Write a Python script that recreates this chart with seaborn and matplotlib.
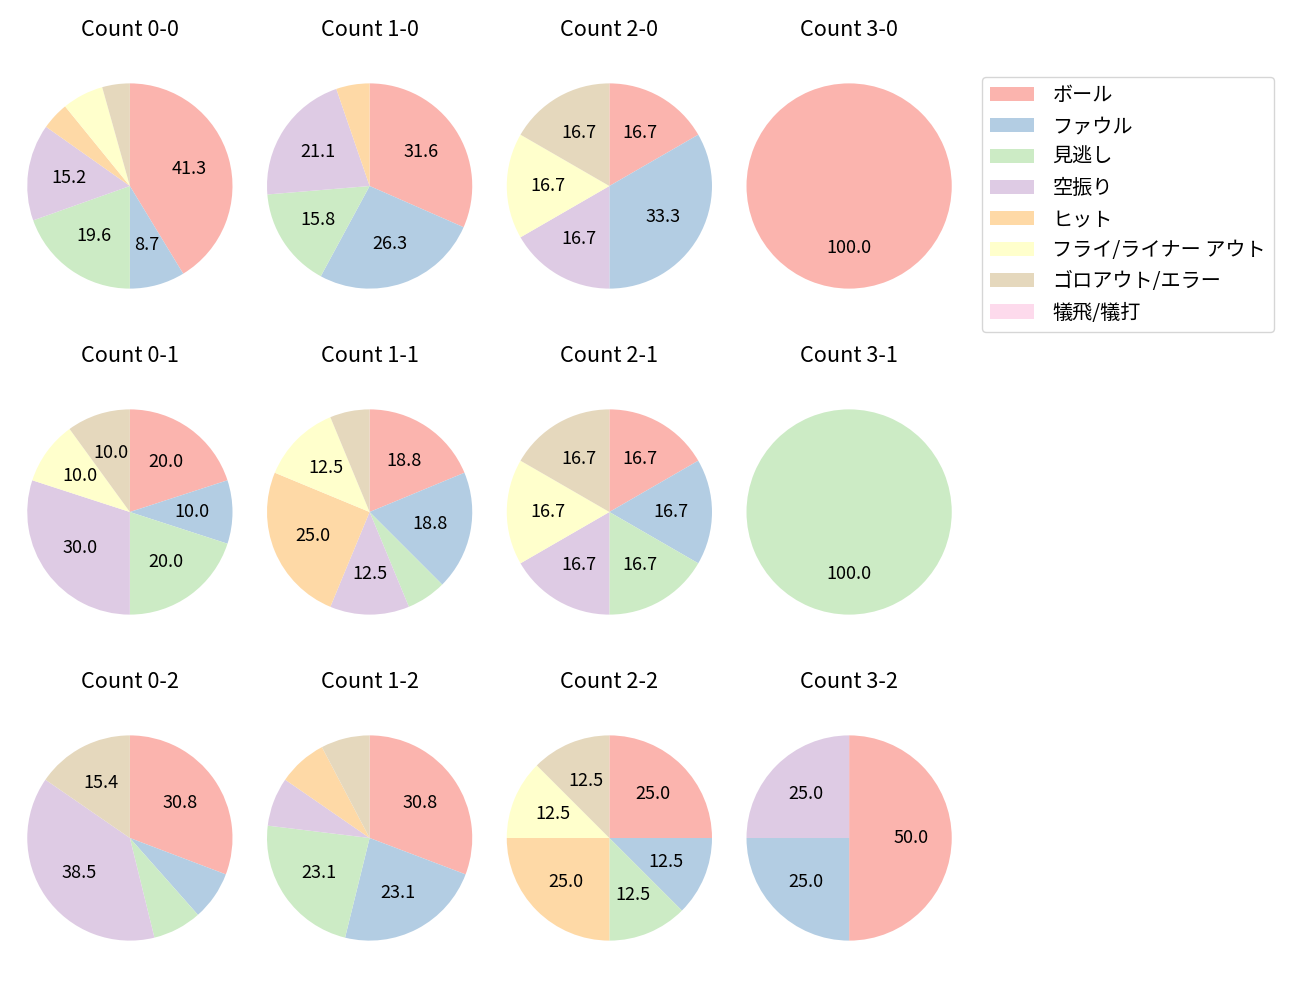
import numpy as np
import matplotlib
matplotlib.use('Agg')
import matplotlib.pyplot as plt
import seaborn as sns
from matplotlib.patches import Patch

#-----------------------------------------------
labels=['ボール', 'ファウル', '見逃し', '空振り', 'ヒット', 'フライ/ライナー アウト', 'ゴロアウト/エラー', '犠飛/犠打']

# counts per pitch result, order as in labels
c00=[19, 4, 9, 7, 2, 3, 2, 0]
c10=[6, 5, 3, 4, 1, 0, 0, 0]
c20=[1, 2, 0, 1, 0, 1, 1, 0]
c30=[1, 0, 0, 0, 0, 0, 0, 0]
c01=[2, 1, 2, 3, 0, 1, 1, 0]
c11=[3, 3, 1, 2, 4, 2, 1, 0]
c21=[1, 1, 1, 1, 0, 1, 1, 0]
c31=[0, 0, 1, 0, 0, 0, 0, 0]
c02=[4, 1, 1, 5, 0, 0, 2, 0]
c12=[4, 3, 3, 1, 1, 0, 1, 0]
c22=[2, 1, 1, 0, 2, 1, 1, 0]
c32=[2, 1, 0, 1, 0, 0, 0, 0]

grid=[[('0-0', c00), ('1-0', c10), ('2-0', c20), ('3-0', c30)],
      [('0-1', c01), ('1-1', c11), ('2-1', c21), ('3-1', c31)],
      [('0-2', c02), ('1-2', c12), ('2-2', c22), ('3-2', c32)]]

#######################################################
sns.set_style('white')
plt.rcParams['font.family']=['Noto Sans CJK JP', 'DejaVu Sans']
plt.rcParams['font.size']=13
plt.rcParams['text.color']='black'
plt.rcParams['axes.titlecolor']='black'
cmap=sns.color_palette('Pastel1', 8)


def fmt(p):
    return f'{p:.1f}' if p>=8 else ''


fig, axes=plt.subplots(3, 4, figsize=(13, 10),
                       gridspec_kw=dict(left=10/1300, right=969/1300, top=1-23/1000, bottom=1-1001/1000, wspace=0, hspace=0))
for r, row in enumerate(grid):
    for c, (name, vals) in enumerate(row):
        ax=axes[r][c]
        ax.pie(vals, colors=cmap, startangle=90, counterclock=False, autopct=fmt, radius=1.07,
               wedgeprops=dict(linewidth=0))
        ax.set_aspect('equal')
        ax.set_title(f'Count {name}', pad=22)

handles=[Patch(facecolor=cmap[i], edgecolor='none', label=labels[i]) for i in range(len(labels))]
fig.legend(handles=handles, loc='upper left', bbox_to_anchor=(982/1300, 1-77/1000), borderaxespad=0,
           fontsize=14.5, labelspacing=0.5, handlelength=2.2, handletextpad=0.9)

plt.savefig('out.png', dpi=100)
plt.close()
